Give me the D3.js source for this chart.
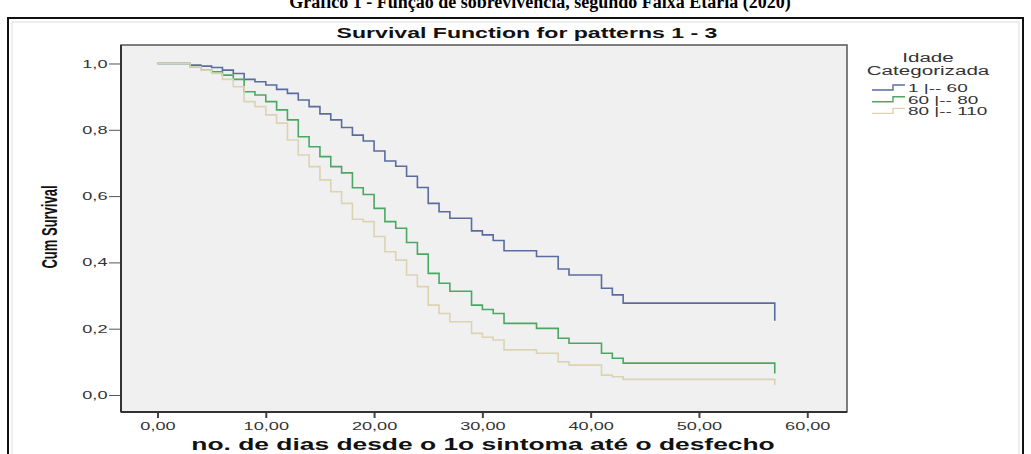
<!DOCTYPE html>
<html>
<head>
<meta charset="utf-8">
<script src="https://cdn.jsdelivr.net/npm/d3@7"></script>
<style>
  html, body { margin: 0; padding: 0; background: #fff; }
  svg { display: block; }
</style>
</head>
<body>
<script>
"use strict";

var width = 1031;
var height = 454;
var S = 1.65; // the picture is stretched sideways, so is its text

// data
var days = [0, 3, 4, 5, 6, 7, 8, 9, 10, 11, 12, 13, 14, 15, 16, 17, 18, 19, 20, 21, 22, 23, 24, 25, 26, 27, 29, 30, 31, 32, 35, 37, 38, 41, 42, 43, 57];
var surv1to60 = [1.0, 0.995, 0.992, 0.988, 0.98, 0.97, 0.952, 0.945, 0.935, 0.922, 0.91, 0.89, 0.87, 0.848, 0.83, 0.807, 0.784, 0.766, 0.736, 0.706, 0.69, 0.66, 0.626, 0.578, 0.553, 0.533, 0.495, 0.483, 0.466, 0.435, 0.418, 0.38, 0.362, 0.322, 0.302, 0.277, 0.224];
var surv60to80 = [1.0, 0.99, 0.98, 0.975, 0.965, 0.952, 0.915, 0.905, 0.885, 0.86, 0.83, 0.779, 0.749, 0.719, 0.689, 0.67, 0.625, 0.605, 0.563, 0.523, 0.503, 0.46, 0.425, 0.367, 0.337, 0.313, 0.271, 0.258, 0.246, 0.216, 0.201, 0.171, 0.156, 0.126, 0.111, 0.096, 0.065];
var surv80to110 = [1.0, 0.99, 0.98, 0.97, 0.952, 0.93, 0.885, 0.87, 0.845, 0.82, 0.769, 0.724, 0.689, 0.649, 0.613, 0.578, 0.53, 0.523, 0.478, 0.432, 0.407, 0.362, 0.327, 0.271, 0.246, 0.221, 0.186, 0.174, 0.166, 0.136, 0.126, 0.1, 0.09, 0.06, 0.055, 0.047, 0.03];
var groupLabels = ["1 |-- 60", "60 |-- 80", "80 |-- 110"];
var groupColors = ["#5a6ba0", "#4aa863", "#dcd3b2"];
var xTicks = [0, 10, 20, 30, 40, 50, 60];
var yTicks = [0, 0.2, 0.4, 0.6, 0.8, 1.0];

var series = [surv1to60, surv60to80, surv80to110];

var plotLeft = 121, plotRight = 847, plotTop = 45, plotBottom = 412;

var svg = d3.select("body").append("svg").attr("width", width).attr("height", height);

// document caption, cut off at the top like in the scan
svg.append("text").attr("x", 540).attr("y", 8).attr("text-anchor", "middle")
  .style("font-family", "'Liberation Serif', 'Times New Roman', serif").style("font-weight", "bold").style("font-size", "18px")
  .text("Gráfico 1 - Função de sobrevivência, segundo Faixa Etária (2020)");

// frame
svg.append("rect").attr("x", 8).attr("y", 18).attr("width", 1015).attr("height", 460)
  .attr("fill", "none").attr("stroke", "#111").attr("stroke-width", 2);
svg.append("rect").attr("x", 12).attr("y", 22).attr("width", 1007).attr("height", 460)
  .attr("fill", "none").attr("stroke", "#ddd").attr("stroke-width", 1);

// scales
var xScale = d3.scaleLinear().domain([-3.37, 63.67]).range([plotLeft, plotRight]);
var yScale = d3.scaleLinear().domain([-0.0513, 1.0558]).range([plotBottom, plotTop]);

svg.append("rect").attr("x", plotLeft).attr("y", plotTop).attr("width", plotRight - plotLeft).attr("height", plotBottom - plotTop)
  .attr("fill", "#f0f0f0").attr("stroke", "#555").attr("stroke-width", 1.5);

function stretched(x, y) {
  return svg.append("g").attr("transform", "translate(" + x + "," + y + ") scale(" + S + ",1)").append("text")
    .style("font-family", "'Liberation Sans', Arial, sans-serif");
}

// curves
var line = d3.line().curve(d3.curveStepAfter)
  .x(function (d) { return xScale(d[0]); })
  .y(function (d) { return yScale(d[1]); });

series.forEach(function (vals, i) {
  var pts = days.map(function (t, j) { return [t, vals[j]]; });
  svg.append("path").datum(pts).attr("d", line)
    .attr("fill", "none").attr("stroke", groupColors[i]).attr("stroke-width", 1.6);
});

// axes
var fmtX = function (d) { return d3.format(".2f")(d).replace(".", ","); };
var fmtY = function (d) { return d3.format(".1f")(d).replace(".", ","); };

var yAxis = d3.axisLeft(yScale).tickValues(yTicks).tickFormat(fmtY).tickSizeInner(12).tickSizeOuter(0).tickPadding(0);
var gy = svg.append("g").attr("transform", "translate(" + plotLeft + ",0)").call(yAxis);
gy.select(".domain").remove();
gy.selectAll("line").attr("stroke", "#555");
gy.selectAll("text").attr("x", -13.5 / S).attr("transform", "scale(" + S + ",1)")
  .style("font-family", "'Liberation Sans', Arial, sans-serif").style("font-size", "11px").attr("fill", "#333");

var xAxis = d3.axisBottom(xScale).tickValues(xTicks).tickFormat(fmtX).tickSizeInner(6).tickSizeOuter(0).tickPadding(4);
var gx = svg.append("g").attr("transform", "translate(0," + plotBottom + ")").call(xAxis);
gx.select(".domain").remove();
gx.selectAll("line").attr("stroke", "#444").attr("stroke-width", 2);
gx.selectAll("text").attr("transform", "scale(" + S + ",1)").attr("x", 0)
  .style("font-family", "'Liberation Sans', Arial, sans-serif").style("font-size", "11px").attr("fill", "#333");

// axis lines, heavier on left and bottom
svg.append("line").attr("x1", plotLeft).attr("x2", plotLeft).attr("y1", plotTop).attr("y2", plotBottom).attr("stroke", "#333").attr("stroke-width", 2);
svg.append("line").attr("x1", plotLeft).attr("x2", plotRight).attr("y1", plotBottom).attr("y2", plotBottom).attr("stroke", "#333").attr("stroke-width", 2);

// titles
stretched(527, 38).attr("text-anchor", "middle").style("font-weight", "bold").style("font-size", "14px")
  .attr("fill", "#111").text("Survival Function for patterns 1 - 3");

stretched(483, 450).attr("text-anchor", "middle").style("font-weight", "bold").style("font-size", "16px")
  .attr("fill", "#111").text("no. de dias desde o 1o sintoma até o desfecho");

svg.append("g").attr("transform", "translate(57,227) scale(1.7,1) rotate(-90)").append("text")
  .attr("text-anchor", "middle")
  .style("font-family", "'Liberation Sans', Arial, sans-serif").style("font-weight", "bold").style("font-size", "13px")
  .attr("fill", "#111").text("Cum Survival");

// legend
stretched(928, 62).attr("text-anchor", "middle").style("font-size", "12.5px").attr("fill", "#333").text("Idade");
stretched(928, 75).attr("text-anchor", "middle").style("font-size", "12.5px").attr("fill", "#333").text("Categorizada");

groupLabels.forEach(function (lab, i) {
  var cy = 88 + i * 11.7;
  svg.append("path")
    .attr("d", "M872," + (cy + 2) + "H893V" + (cy - 3) + "H905")
    .attr("fill", "none").attr("stroke", groupColors[i]).attr("stroke-width", 1.4);
  stretched(908, cy + 4).style("font-size", "11.5px").attr("fill", "#333").text(lab);
});
</script>
</body>
</html>
